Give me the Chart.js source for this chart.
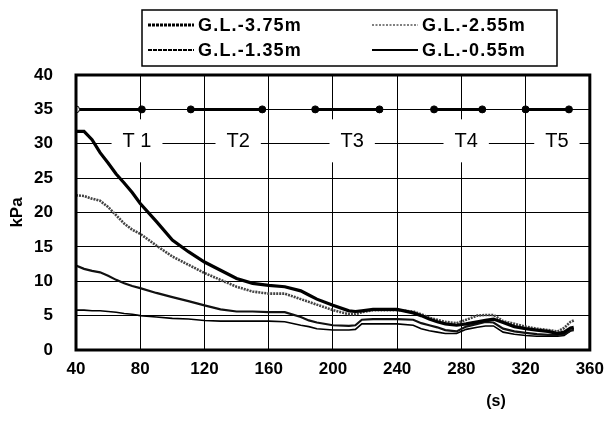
<!DOCTYPE html>
<html><head><meta charset="utf-8">
<script src="https://cdn.jsdelivr.net/npm/chart.js@4"></script>
<style>html,body{margin:0;padding:0;background:#fff}#wrap{width:613px;height:425px}</style>
</head><body><div id="wrap"><canvas id="c" width="613" height="425"></canvas></div>
<script>
const times = [40,45,50,55,60,65,70,75,80,90,100,110,120,130,140,150,160,170,180,185,190,200,210,214,218,225,240,250,255,260,265,270,277,283,290,295,300,306,313,320,327,334,340,344,348,350];
const gl375 = [31.8,31.8,30.6,28.7,27.2,25.6,24.3,22.9,21.3,18.7,16.0,14.3,12.8,11.6,10.4,9.7,9.4,9.2,8.6,8.0,7.4,6.5,5.7,5.6,5.7,5.9,5.9,5.4,5.0,4.5,4.1,3.8,3.6,3.8,4.1,4.3,4.5,4.0,3.4,3.1,2.9,2.7,2.4,2.6,3.2,3.3];
const gl255 = [22.5,22.4,22.0,21.7,20.8,19.6,18.4,17.5,16.9,15.2,13.6,12.4,11.2,10.2,9.2,8.5,8.2,8.2,7.4,7.0,6.6,5.8,5.2,5.2,5.5,5.8,5.8,5.6,5.2,4.7,4.4,4.1,3.9,4.4,5.0,5.1,5.1,4.2,3.8,3.4,3.1,2.9,2.7,3.2,4.1,4.3];
const gl135 = [12.3,11.8,11.5,11.3,10.8,10.2,9.7,9.3,9.0,8.3,7.7,7.1,6.5,5.9,5.6,5.6,5.5,5.5,4.8,4.3,4.0,3.6,3.5,3.6,4.4,4.5,4.5,4.4,3.9,3.6,3.3,2.9,2.7,3.4,3.8,4.1,4.0,3.1,2.7,2.5,2.3,2.2,2.2,2.3,2.8,2.9];
const gl055 = [5.8,5.8,5.7,5.7,5.6,5.5,5.3,5.2,5.0,4.8,4.6,4.5,4.3,4.2,4.2,4.2,4.2,4.1,3.6,3.4,3.1,2.9,2.9,3.0,3.8,3.8,3.8,3.6,3.1,2.8,2.6,2.4,2.4,3.0,3.3,3.5,3.5,2.6,2.3,2.1,2.0,2.0,2.0,2.1,2.8,3.0];
const seriesNames = ['G.L.-3.75m','G.L.-2.55m','G.L.-1.35m','G.L.-0.55m'];
const segStart = [40,111.5,189,263,320];
const segEnd = [81,156,229,293,347];
const segLevel = 35;
const tLabels = ['T 1','T2','T3','T4','T5'];
const tLabelX = [78,141,212,283,339.5];
const tLabelLevel = 30.5;
const xTicks = [40,80,120,160,200,240,280,320,360];
const yTicks = [0,5,10,15,20,25,30,35,40];
const xUnit = '(s)';
const yUnit = 'kPa';

const pts = arr => times.map((t,i)=>({x:t,y:arr[i]}));
const segData = [];
const segFill = [];
segStart.forEach((s,i)=>{
  if(i>0){segData.push({x:(segEnd[i-1]+s)/2,y:null});segFill.push('#000');}
  segData.push({x:s,y:segLevel});segFill.push(i===0?'#fff':'#000');
  segData.push({x:segEnd[i],y:segLevel});segFill.push('#000');
});

const styles = [
  {borderColor:'#000',borderWidth:3.2,borderDash:[]},
  {borderColor:'#444',borderWidth:2.6,borderDash:[2,1]},
  {borderColor:'#111',borderWidth:2.2,borderDash:[]},
  {borderColor:'#000',borderWidth:1.6,borderDash:[]}
];
const seriesData = [gl375,gl255,gl135,gl055];
const datasets = seriesData.map((a,i)=>Object.assign({
  label:seriesNames[i],data:pts(a),pointRadius:0,tension:0,fill:false
},styles[i]));
datasets.push({label:'seg',data:segData,borderColor:'#000',borderWidth:3,pointRadius:3.5,
  pointBackgroundColor:segFill,pointBorderColor:'#000',pointBorderWidth:1,spanGaps:false,tension:0});

const FONT = "'Liberation Sans', Arial, sans-serif";

const deco = {
  id:'deco',
  beforeDatasetsDraw(chart){
    const {ctx,scales:{x,y}} = chart;
    ctx.save();
    ctx.font = "20px "+FONT;
    ctx.textAlign='center';ctx.textBaseline='middle';
    tLabels.forEach((t,i)=>{
      const px = x.getPixelForValue(tLabelX[i]);
      const py = y.getPixelForValue(tLabelLevel);
      const w = ctx.measureText(t).width + 22;
      ctx.fillStyle='#fff';
      ctx.fillRect(px-w/2, py-21, w, 43);
      ctx.fillStyle='#000';
      ctx.fillText(t, px, py+1);
    });
    ctx.restore();
  },
  afterDraw(chart){
    const {ctx,chartArea:a} = chart;
    ctx.save();
    ctx.strokeStyle='#000';ctx.lineWidth=3;
    ctx.strokeRect(a.left,a.top,a.right-a.left,a.bottom-a.top);
    ctx.font="bold 16px "+FONT;ctx.fillStyle='#000';ctx.textAlign='center';ctx.textBaseline='middle';
    ctx.fillText(xUnit, 496, 402);
    ctx.lineWidth=1.5;
    ctx.strokeRect(142,10,415,56);
    const pos = [[148,25],[372,25],[148,50],[372,50]];
    const lw = [3,1,2,2];
    const dash = [[3,1],[2,1.5],[4,1],[]];
    ctx.font="bold 18px "+FONT;ctx.textAlign='left';
    if('letterSpacing' in ctx) ctx.letterSpacing='1.2px';
    pos.forEach((p,i)=>{
      ctx.beginPath();ctx.setLineDash(dash[i]);ctx.lineWidth=lw[i];
      ctx.moveTo(p[0],p[1]);ctx.lineTo(p[0]+46,p[1]);ctx.stroke();
      ctx.setLineDash([]);
      ctx.fillText(chart.data.datasets[i].label,p[0]+50,p[1]+1);
    });
    ctx.restore();
  }
};

new Chart(document.getElementById('c'),{
  type:'line',
  data:{datasets},
  options:{
    responsive:false,animation:false,
    layout:{padding:{top:75,right:18,left:0,bottom:0}},
    plugins:{legend:{display:false},tooltip:{enabled:false}},
    scales:{
      x:{type:'linear',min:40,max:360,
        afterBuildTicks(s){s.ticks=xTicks.map(v=>({value:v}));},
        afterFit(s){s.height=75;},
        grid:{color:'#000',lineWidth:1,drawTicks:false},
        border:{display:false},
        ticks:{color:'#000',padding:9,font:{family:FONT,size:17,weight:'bold'}}
      },
      y:{min:0,max:40,
        afterBuildTicks(s){s.ticks=yTicks.map(v=>({value:v}));},
        afterFit(s){s.width=76;},
        grid:{color:'#000',lineWidth:1,drawTicks:false},
        border:{display:false},
        ticks:{color:'#000',padding:23,font:{family:FONT,size:17,weight:'bold'}},
        title:{display:true,text:yUnit,color:'#000',padding:{top:7},font:{family:FONT,size:17,weight:'bold'}}
      }
    }
  },
  plugins:[deco]
});
</script></body></html>
